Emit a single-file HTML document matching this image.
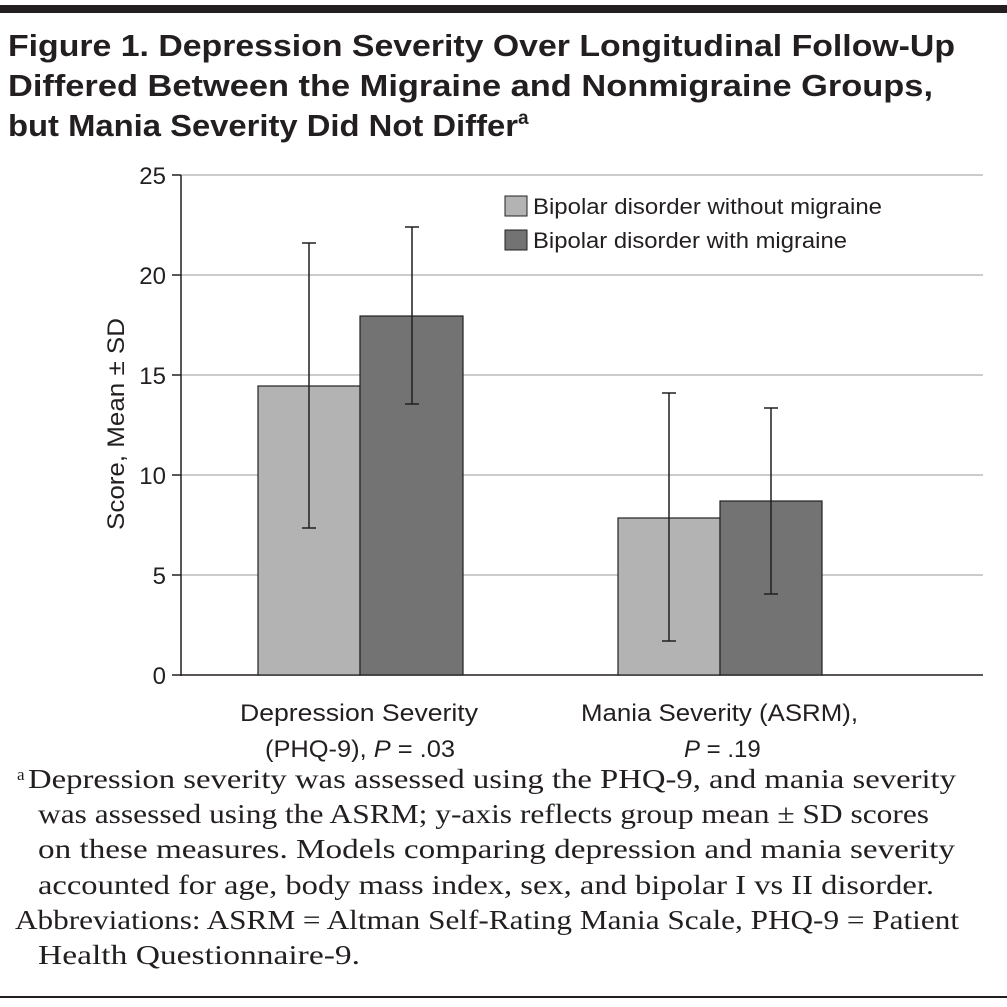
<!DOCTYPE html>
<html><head><meta charset="utf-8"><style>body{margin:0;background:#fff}svg{display:block}</style></head><body>
<svg width="1007" height="1007" xmlns="http://www.w3.org/2000/svg" font-family="Liberation Sans, sans-serif">
<rect x="0" y="5" width="1007" height="8" fill="#231f20"/>
<g font-weight="bold" font-size="31" fill="#231f20">
<text x="8" y="56" textLength="947" lengthAdjust="spacingAndGlyphs">Figure 1. Depression Severity Over Longitudinal Follow-Up</text>
<text x="8" y="96" textLength="925" lengthAdjust="spacingAndGlyphs">Differed Between the Migraine and Nonmigraine Groups,</text>
<text x="8" y="136" textLength="510" lengthAdjust="spacingAndGlyphs">but Mania Severity Did Not Differ</text>
<text x="518" y="124" font-size="19">a</text>
</g>
<g stroke="#bbb" stroke-width="1.5">
<line x1="181" y1="175" x2="983" y2="175"/><line x1="181" y1="275" x2="983" y2="275"/>
<line x1="181" y1="375" x2="983" y2="375"/><line x1="181" y1="475" x2="983" y2="475"/>
<line x1="181" y1="575" x2="983" y2="575"/>
</g>
<g stroke="#231f20" stroke-width="1.5">
<line x1="181" y1="175" x2="181" y2="676"/><line x1="181" y1="675" x2="983" y2="675"/>
<line x1="172" y1="175" x2="181" y2="175"/><line x1="172" y1="275" x2="181" y2="275"/>
<line x1="172" y1="375" x2="181" y2="375"/><line x1="172" y1="475" x2="181" y2="475"/>
<line x1="172" y1="575" x2="181" y2="575"/><line x1="172" y1="675" x2="181" y2="675"/>
</g>
<g font-size="24" fill="#231f20" text-anchor="end">
<text x="166" y="184">25</text><text x="166" y="284">20</text><text x="166" y="384">15</text>
<text x="166" y="484">10</text><text x="166" y="584">5</text><text x="166" y="684">0</text>
</g>
<text transform="translate(124,424) rotate(-90)" font-size="24" fill="#231f20" text-anchor="middle" textLength="212" lengthAdjust="spacingAndGlyphs">Score, Mean ± SD</text>
<g stroke="#231f20" stroke-width="1.2">
<rect x="258" y="386" width="102" height="289" fill="#b3b3b3"/>
<rect x="360" y="316" width="103" height="359" fill="#737373"/>
<rect x="618" y="518" width="102" height="157" fill="#b3b3b3"/>
<rect x="720" y="501" width="102" height="174" fill="#737373"/>
</g>
<g stroke="#231f20" stroke-width="1.5">
<line x1="309" y1="243" x2="309" y2="528"/><line x1="302" y1="243" x2="316" y2="243"/><line x1="302" y1="528" x2="316" y2="528"/>
<line x1="412" y1="227" x2="412" y2="404"/><line x1="405" y1="227" x2="419" y2="227"/><line x1="405" y1="404" x2="419" y2="404"/>
<line x1="669" y1="393" x2="669" y2="641"/><line x1="662" y1="393" x2="676" y2="393"/><line x1="662" y1="641" x2="676" y2="641"/>
<line x1="771" y1="408" x2="771" y2="594"/><line x1="764" y1="408" x2="778" y2="408"/><line x1="764" y1="594" x2="778" y2="594"/>
</g>
<rect x="505" y="196" width="22" height="20" fill="#b3b3b3" stroke="#231f20"/>
<rect x="505" y="230" width="22" height="20" fill="#737373" stroke="#231f20"/>
<g font-size="22" fill="#231f20">
<text x="533" y="214" textLength="349" lengthAdjust="spacingAndGlyphs">Bipolar disorder without migraine</text>
<text x="533" y="248" textLength="314" lengthAdjust="spacingAndGlyphs">Bipolar disorder with migraine</text>
</g>
<g font-size="24" fill="#231f20">
<text x="240" y="721" textLength="238" lengthAdjust="spacingAndGlyphs">Depression Severity</text>
<text x="265" y="757" textLength="190" lengthAdjust="spacingAndGlyphs">(PHQ-9), <tspan font-style="italic">P</tspan> = .03</text>
<text x="581" y="721" textLength="277" lengthAdjust="spacingAndGlyphs">Mania Severity (ASRM),</text>
<text x="684" y="757"><tspan font-style="italic">P</tspan> = .19</text>
</g>
<g font-family="Liberation Serif, serif" font-size="27" fill="#231f20">
<text x="17" y="780" font-size="17">a</text>
<text x="28" y="788" textLength="928" lengthAdjust="spacingAndGlyphs">Depression severity was assessed using the PHQ-9, and mania severity</text>
<text x="38" y="823" textLength="891" lengthAdjust="spacingAndGlyphs">was assessed using the ASRM; y-axis reflects group mean ± SD scores</text>
<text x="38" y="858" textLength="917" lengthAdjust="spacingAndGlyphs">on these measures. Models comparing depression and mania severity</text>
<text x="38" y="894" textLength="896" lengthAdjust="spacingAndGlyphs">accounted for age, body mass index, sex, and bipolar I vs II disorder.</text>
<text x="15" y="929" textLength="944" lengthAdjust="spacingAndGlyphs">Abbreviations: ASRM = Altman Self-Rating Mania Scale, PHQ-9 = Patient</text>
<text x="38" y="964" textLength="322" lengthAdjust="spacingAndGlyphs">Health Questionnaire-9.</text>
</g>
<rect x="0" y="996" width="1007" height="2" fill="#231f20"/>
</svg>
</body></html>
